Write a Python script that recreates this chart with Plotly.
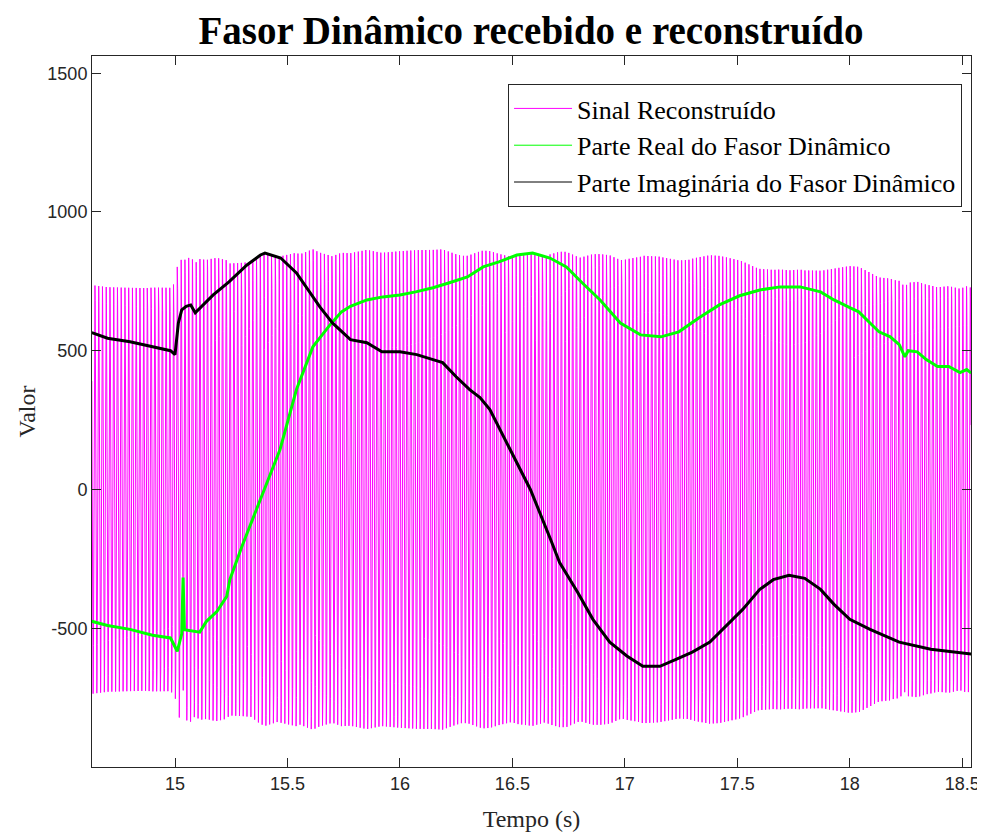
import numpy as np
import plotly.graph_objects as go

# dynamic phasor, real part (green)
t_re = [14.63, 14.70, 14.80, 14.90, 14.98, 15.01, 15.03, 15.036, 15.042, 15.08,
        15.11, 15.14, 15.187, 15.23, 15.244, 15.30, 15.378, 15.467, 15.54, 15.613,
        15.69, 15.74, 15.78, 15.853, 15.924, 16.00, 16.07, 16.147, 16.22, 16.30,
        16.37, 16.44, 16.52, 16.59, 16.667, 16.74, 16.81, 16.89, 16.98, 17.07,
        17.16, 17.24, 17.33, 17.42, 17.51, 17.60, 17.69, 17.78, 17.87, 17.93,
        18.00, 18.04, 18.09, 18.13, 18.18, 18.22, 18.245, 18.26, 18.30, 18.34,
        18.39, 18.44, 18.49, 18.52, 18.54]
re_vals = [-475, -490, -504, -525, -535, -583, -520, -317, -505, -510,
           -514, -475, -439, -385, -324, -200, -36, 144, 360, 514,
           594, 640, 660, 683, 694, 701, 712, 727, 745, 766,
           802, 820, 845, 852, 834, 802, 745, 683, 600, 557,
           550, 568, 619, 665, 698, 719, 730, 730, 712, 683,
           655, 640, 600, 568, 550, 522, 478, 500, 496, 468,
           443, 443, 421, 432, 420]

# dynamic phasor, imaginary part (black)
t_im = [14.63, 14.70, 14.80, 14.90, 14.98, 15.00, 15.015, 15.03, 15.05, 15.07,
        15.09, 15.17, 15.24, 15.32, 15.38, 15.40, 15.47, 15.54, 15.61, 15.644,
        15.70, 15.78, 15.853, 15.92, 16.00, 16.075, 16.147, 16.19, 16.25, 16.31,
        16.356, 16.40, 16.49, 16.58, 16.67, 16.71, 16.79, 16.858, 16.933, 17.009,
        17.08, 17.156, 17.23, 17.30, 17.378, 17.45, 17.524, 17.60, 17.66, 17.73,
        17.80, 17.87, 17.93, 18.00, 18.09, 18.22, 18.36, 18.54]
im_vals = [565, 545, 532, 515, 500, 486, 600, 647, 660, 665,
           637, 701, 748, 809, 845, 852, 834, 780, 700, 658,
           600, 540, 529, 496, 496, 486, 468, 457, 406, 360,
           331, 288, 144, 0, -180, -263, -370, -468, -550, -600,
           -637, -637, -611, -586, -550, -493, -432, -360, -325, -309,
           -320, -360, -414, -468, -504, -550, -576, -593]

f_grid = 60.0      # carrier (Hz)
fs_rec = 1200.0    # reconstruction sample rate (Hz)

# reconstructed signal from the received phasor
t_rec = np.arange(14.63, 18.54, 1.0 / fs_rec)
re_rec = np.interp(t_rec, t_re, re_vals)
im_rec = np.interp(t_rec, t_im, im_vals)
sig_rec = re_rec * np.cos(2 * np.pi * f_grid * t_rec) - im_rec * np.sin(2 * np.pi * f_grid * t_rec)

names = ["Sinal Reconstruído", "Parte Real do Fasor Dinâmico", "Parte Imaginária do Fasor Dinâmico"]
colors = ["#ff00ff", "#00ff00", "#000000"]

fig = go.Figure()
fig.add_trace(go.Scatter(x=t_rec, y=sig_rec, mode="lines", line=dict(color=colors[0], width=1), showlegend=False))
fig.add_trace(go.Scatter(x=t_re, y=re_vals, mode="lines", line=dict(color=colors[1], width=3), showlegend=False))
fig.add_trace(go.Scatter(x=t_im, y=im_vals, mode="lines", line=dict(color=colors[2], width=3), showlegend=False))
# thin lines for the legend
for n, c in zip(names, colors):
	fig.add_trace(go.Scatter(x=[None], y=[None], mode="lines", name=n, line=dict(color=c, width=1)))

axcol = "#262626"
xt = [15, 15.5, 16, 16.5, 17, 17.5, 18, 18.5]
yt = [-500, 0, 500, 1000, 1500]

# page body has an 8px margin, so the figure is a bit smaller than the window
fig.update_layout(
	width=977, height=828, autosize=False,
	margin=dict(l=84, r=14, t=48, b=69, autoexpand=False),
	plot_bgcolor="white", paper_bgcolor="white",
	title=dict(text="<b>Fasor Dinâmico recebido e reconstruído</b>", x=0.5353, xanchor="center",
		y=0.973, yref="container", yanchor="middle",
		font=dict(family="Liberation Serif", size=39, color="#000000")),
	legend=dict(x=0.9898, xanchor="right", y=0.9606, yanchor="top",
		bgcolor="white", bordercolor=axcol, borderwidth=1,
		font=dict(family="Liberation Serif", size=26, color="#000000"),
		tracegroupgap=0, itemwidth=58),
)
fig.update_xaxes(range=[14.631, 18.539], tickvals=xt, ticktext=[("%g" % v) for v in xt],
	automargin=False,
	showgrid=False, zeroline=False, showline=True, linecolor=axcol, linewidth=1, mirror="ticks",
	ticks="inside", ticklen=9, tickcolor=axcol,
	tickfont=dict(family="Liberation Sans", size=18, color=axcol),
	title=dict(text="Tempo (s)", font=dict(family="Liberation Serif", size=24, color=axcol), standoff=17))
fig.update_yaxes(range=[-1000, 1562], tickvals=yt, ticktext=[str(v) for v in yt],
	automargin=False,
	showgrid=False, zeroline=False, showline=True, linecolor=axcol, linewidth=1, mirror="ticks",
	ticks="inside", ticklen=9, tickcolor=axcol,
	tickfont=dict(family="Liberation Sans", size=18, color=axcol),
	title=dict(text="Valor", font=dict(family="Liberation Serif", size=24, color=axcol), standoff=4))

fig.write_html("out.html")
